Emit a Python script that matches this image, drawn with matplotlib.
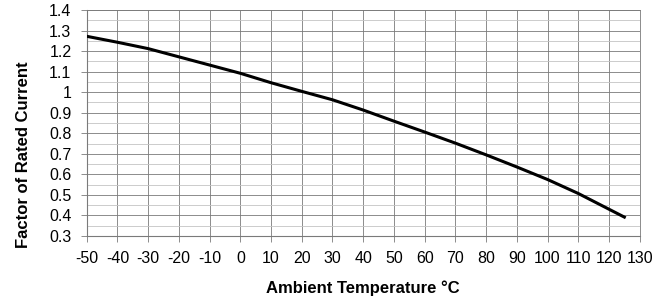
import matplotlib.pyplot as plt
import numpy as np

temps = [-50, -40, -30, -20, -10, 0, 10, 20, 30, 40, 50, 60, 70, 80, 90, 100, 110, 125]
factor = [1.272, 1.243, 1.212, 1.172, 1.132, 1.092, 1.046, 1.004, 0.963, 0.913,
          0.859, 0.806, 0.752, 0.695, 0.636, 0.575, 0.507, 0.392]

x_ticks = list(range(-50, 131, 10))
y_ticks = [0.3, 0.4, 0.5, 0.6, 0.7, 0.8, 0.9, 1, 1.1, 1.2, 1.3, 1.4]

plt.rcParams['font.family'] = ['Liberation Sans', 'DejaVu Sans']

fig = plt.figure(figsize=(6.58, 3.04), dpi=100)
ax = fig.add_axes([0.1318, 0.2237, 0.8404, 0.7434])

ax.plot(temps, factor, color='black', linewidth=2.2, zorder=3)

ax.set_xlim(-50, 130)
ax.set_ylim(0.3, 1.4)
ax.set_xticks(x_ticks)
ax.set_xticklabels([str(t) for t in x_ticks])
ax.set_yticks(y_ticks)
ax.set_yticklabels([('%g' % v) for v in y_ticks])
ax.set_yticks(np.arange(0.35, 1.4, 0.1), minor=True)

ax.grid(which='major', color='#7a7a7a', linewidth=0.6)
ax.grid(which='minor', axis='y', color='#c4c4c4', linewidth=0.6)
ax.tick_params(which='major', direction='out', length=4, width=0.6, color='#7a7a7a',
               labelsize=11.5)
ax.tick_params(axis='y', which='major', pad=7)
ax.tick_params(axis='x', which='major', pad=7)
ax.tick_params(which='minor', length=0)
for side in ['left', 'bottom']:
    ax.spines[side].set_color('#7a7a7a')
    ax.spines[side].set_linewidth(0.8)
for side in ['top', 'right']:
    ax.spines[side].set_color('#7a7a7a')
    ax.spines[side].set_linewidth(0.6)

ax.set_xlabel('Ambient Temperature °C', fontsize=12, fontweight='bold', va='center')
ax.set_ylabel('Factor of Rated Current', fontsize=12, fontweight='bold', va='center')
ax.xaxis.set_label_coords(0.5, -0.232)
ax.yaxis.set_label_coords(-0.115, 0.36)

plt.savefig('out.png', dpi=100)
